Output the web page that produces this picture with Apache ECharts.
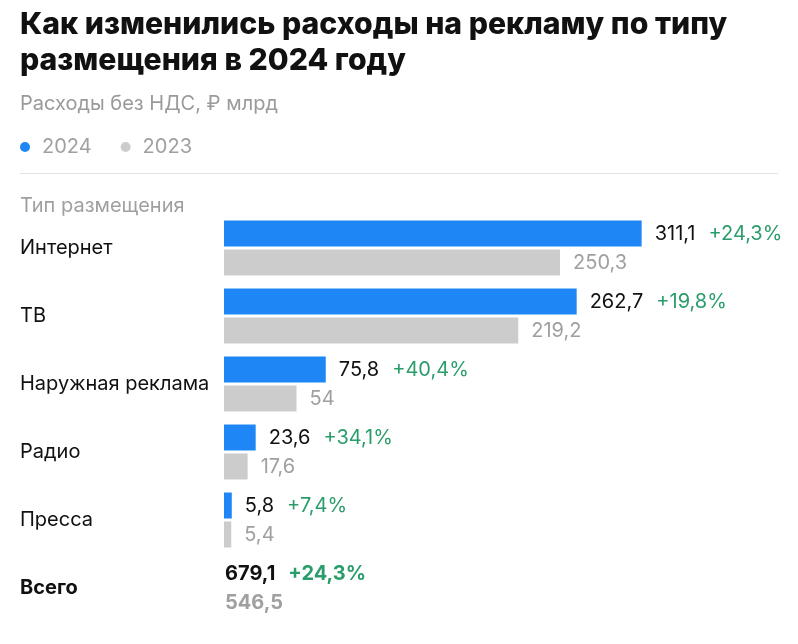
<!DOCTYPE html>
<html>
<head>
<meta charset="utf-8">
<script src="https://cdn.jsdelivr.net/npm/echarts@6/dist/echarts.min.js"></script>
<style>
html,body{margin:0;padding:0;background:#fff;}
#chart{width:798px;height:644px;}
</style>
</head>
<body>
<div id="chart"></div>
<script>
const categories = ['Интернет', 'ТВ', 'Наружная реклама', 'Радио', 'Пресса', 'Всего'];
const values2024 = [311.1, 262.7, 75.8, 23.6, 5.8, 679.1];
const values2023 = [250.3, 219.2, 54, 17.6, 5.4, 546.5];
const changes = [24.3, 19.8, 40.4, 34.1, 7.4, 24.3];
const totalIndex = 5;

const FONT = 'Inter';
const BLUE = '#1f87f5';
const GREY_BAR = '#cccccc';
const GREY_TEXT = '#a0a0a0';
const GREEN = '#2a9d6a';
const FS = 20;

function fmt(v) {
  return Number.isInteger(v) ? String(v) : v.toFixed(1).replace('.', ',');
}

const data2024 = values2024.map((v, i) => {
  if (i === totalIndex) {
    return {
      value: 0,
      label: { distance: 1, formatter: '{vb|' + fmt(v) + '}{pb|+' + fmt(changes[i]) + '%}' }
    };
  }
  return { value: v, label: { formatter: '{v|' + fmt(v) + '}{p|+' + fmt(changes[i]) + '%}' } };
});
const data2023 = values2023.map((v, i) => {
  if (i === totalIndex) {
    return { value: 0, label: { distance: 1, formatter: '{b|' + fmt(v) + '}' } };
  }
  return { value: v, label: { formatter: '{n|' + fmt(v) + '}' } };
});

const chart = echarts.init(document.getElementById('chart'));
chart.setOption({
  backgroundColor: '#ffffff',
  animation: false,
  textStyle: { fontFamily: FONT },
  title: [
    {
      text: 'Как изменились расходы на рекламу по типу\nразмещения в 2024 году',
      left: 20, top: 7, padding: 0,
      textStyle: { fontFamily: FONT, fontSize: 30.2, fontWeight: 800, color: '#111111', lineHeight: 36 }
    },
    {
      text: 'Расходы без НДС, ₽ млрд',
      left: 20, top: 94, padding: 0,
      textStyle: { fontFamily: FONT, fontSize: FS, fontWeight: 'normal', color: '#9a9a9a', lineHeight: 20 }
    },
    {
      text: 'Тип размещения',
      left: 20, top: 196, padding: 0,
      textStyle: { fontFamily: FONT, fontSize: FS, fontWeight: 'normal', color: '#a0a0a0', lineHeight: 20 }
    }
  ],
  legend: {
    left: 20, top: 137, padding: 0,
    icon: 'circle', itemWidth: 10, itemHeight: 10, itemGap: 29,
    textStyle: { fontFamily: FONT, fontSize: FS, color: '#a0a0a0', lineHeight: 20, padding: [0, 0, 0, 7] },
    data: ['2024', '2023']
  },
  graphic: [
    { type: 'line', shape: { x1: 20, y1: 173.5, x2: 778, y2: 173.5 }, style: { stroke: '#e3e3e3', lineWidth: 1 } }
  ],
  grid: { left: 224, top: 214, width: 537, height: 408, containLabel: false },
  xAxis: { type: 'value', min: 0, max: 400, show: false },
  yAxis: {
    type: 'category', inverse: true, data: categories,
    axisLine: { show: false }, axisTick: { show: false },
    axisLabel: {
      align: 'left', margin: 204, fontFamily: FONT, fontSize: FS, color: '#111111',
      formatter: (v, i) => i === totalIndex ? '{b|' + v + '}' : v,
      rich: { b: { fontFamily: FONT, fontSize: FS, fontWeight: 'bold', color: '#111111' } }
    }
  },
  series: [
    {
      name: '2024', type: 'bar', barWidth: 26, barGap: '11.5%',
      itemStyle: { color: BLUE },
      label: {
        show: true, position: 'right', distance: 13,
        rich: {
          v: { fontFamily: FONT, fontSize: FS, color: '#111111' },
          p: { fontFamily: FONT, fontSize: FS, color: GREEN, padding: [0, 0, 0, 13] },
          vb: { fontFamily: FONT, fontSize: FS, fontWeight: 'bold', color: '#111111' },
          pb: { fontFamily: FONT, fontSize: FS, fontWeight: 'bold', color: GREEN, padding: [0, 0, 0, 13] }
        }
      },
      data: data2024
    },
    {
      name: '2023', type: 'bar', barWidth: 26,
      itemStyle: { color: GREY_BAR },
      label: {
        show: true, position: 'right', distance: 13,
        rich: {
          n: { fontFamily: FONT, fontSize: FS, color: GREY_TEXT },
          b: { fontFamily: FONT, fontSize: FS, fontWeight: 'bold', color: GREY_TEXT }
        }
      },
      data: data2023
    }
  ]
});
</script>
</body>
</html>
